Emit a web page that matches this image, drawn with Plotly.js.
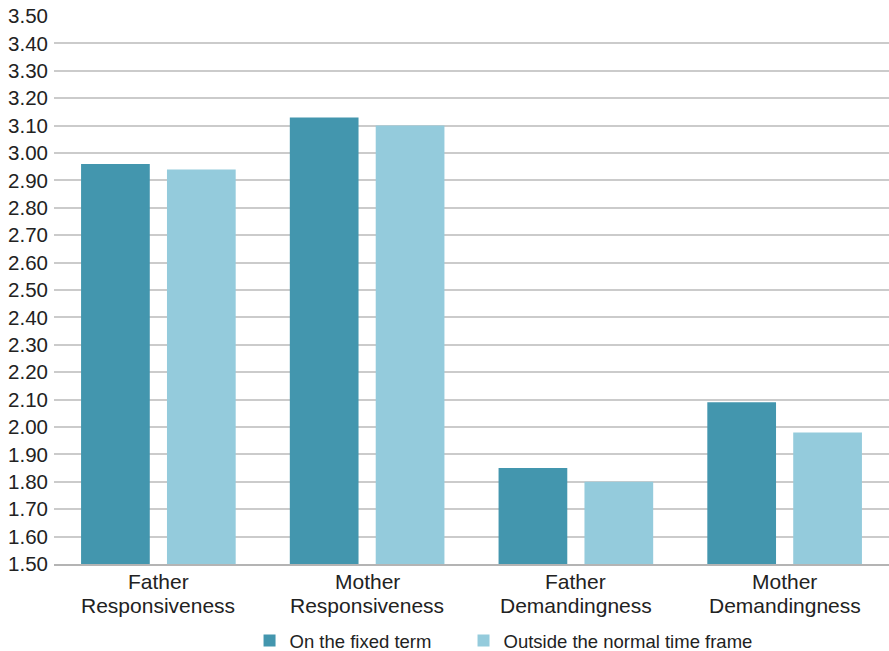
<!DOCTYPE html>
<html>
<head>
<meta charset="utf-8">
<script src="https://cdn.plot.ly/plotly-3.0.1.min.js"></script>
<style>
  html, body { margin: 0; padding: 0; background: #ffffff; }
  #chart { width: 889px; height: 651px; }
</style>
</head>
<body>
<div id="chart"></div>
<script>
// Parenting style scores by timing group
const categories = [
  'Father<br>Responsiveness',
  'Mother<br>Responsiveness',
  'Father<br>Demandingness',
  'Mother<br>Demandingness'
];
const seriesNames = ['On the fixed term', 'Outside the normal time frame'];
const onFixedTerm = [2.96, 3.13, 1.85, 2.09];
const outsideTimeFrame = [2.94, 3.10, 1.80, 1.98];
const yTickValues = [1.5, 1.6, 1.7, 1.8, 1.9, 2.0, 2.1, 2.2, 2.3, 2.4, 2.5, 2.6, 2.7, 2.8, 2.9, 3.0, 3.1, 3.2, 3.3, 3.4, 3.5];

const fontFamily = 'Liberation Sans, Arial, Helvetica, sans-serif';
const textColor = '#222222';

const traces = [
  {
    type: 'bar',
    name: seriesNames[0],
    x: categories,
    y: onFixedTerm,
    legend: 'legend',
    marker: { color: '#4396ae', line: { width: 0 } },
    hoverinfo: 'none'
  },
  {
    type: 'bar',
    name: seriesNames[1],
    x: categories,
    y: outsideTimeFrame,
    legend: 'legend2',
    marker: { color: '#94cbdc', line: { width: 0 } },
    hoverinfo: 'none'
  }
];

// Category labels: two tightly spaced lines under each group
const categoryLabels = [];
categories.forEach(cat => {
  cat.split('<br>').forEach((line, i) => {
    categoryLabels.push({
      x: cat, xref: 'x',
      y: 0, yref: 'paper',
      yanchor: 'middle',
      yshift: -17 - 24 * i,
      text: line,
      showarrow: false,
      font: { size: 21, color: textColor, family: fontFamily }
    });
  });
});

const legendBase = {
  orientation: 'h',
  xref: 'container',
  yref: 'container',
  xanchor: 'left',
  y: 0.0154,
  yanchor: 'middle',
  font: { size: 18.5, color: textColor },
  bgcolor: 'rgba(0,0,0,0)'
};

const layout = {
  width: 889,
  height: 651,
  margin: { l: 54, r: 0, t: 16, b: 87 },
  paper_bgcolor: '#ffffff',
  plot_bgcolor: '#ffffff',
  barmode: 'group',
  bargap: 0.177,
  bargroupgap: 0.2,
  font: { family: fontFamily, color: textColor },
  xaxis: {
    type: 'category',
    showgrid: false,
    showline: true,
    linecolor: '#b4b4b4',
    linewidth: 2,
    ticks: '',
    showticklabels: false,
    fixedrange: true
  },
  yaxis: {
    range: [1.5, 3.5],
    tickvals: yTickValues,
    ticktext: yTickValues.map(v => v.toFixed(2)),
    showgrid: true,
    gridcolor: '#cbcbcb',
    gridwidth: 2,
    zeroline: false,
    showline: false,
    ticks: '',
    ticklabelstandoff: 5,
    tickfont: { size: 20.5, color: textColor },
    fixedrange: true
  },
  annotations: categoryLabels,
  showlegend: true,
  legend: Object.assign({}, legendBase, { x: 0.2807 }),
  legend2: Object.assign({}, legendBase, { x: 0.5214 })
};

Plotly.newPlot('chart', traces, layout, { displayModeBar: false, staticPlot: true });
</script>
</body>
</html>
